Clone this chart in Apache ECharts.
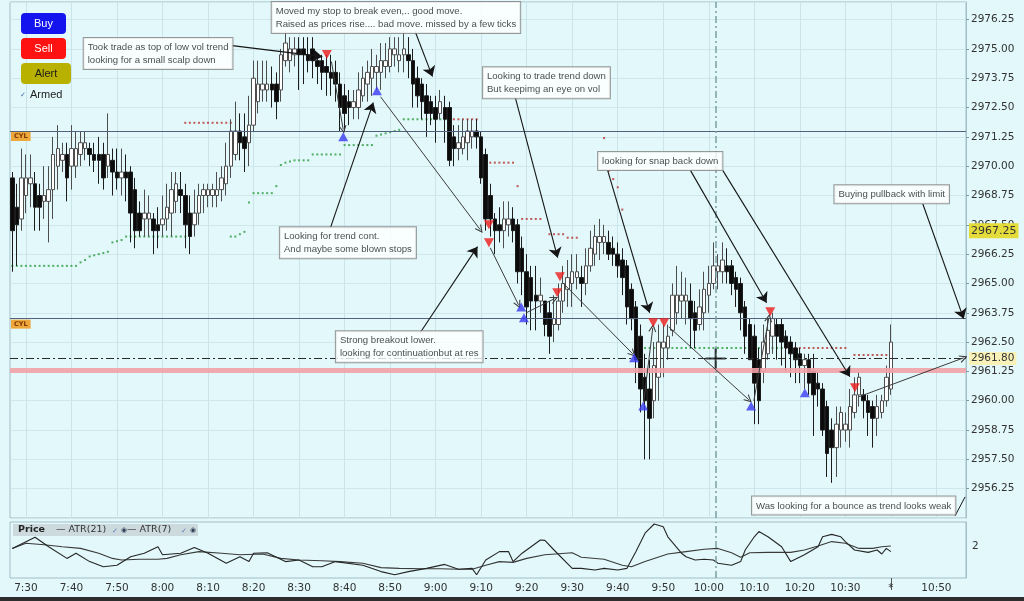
<!DOCTYPE html>
<html><head><meta charset="utf-8">
<script src="https://cdn.jsdelivr.net/npm/echarts/dist/echarts.min.js"></script>
<style>html,body{margin:0;padding:0;background:#e2f8fb;}#c{width:1024px;height:601px;}</style>
</head><body><div id="c"></div>
<script>
// ---- categories (1-minute bars starting 7:27) ----
const startMinute = 7 * 60 + 27, nCats = 210;
const times = [];
for (let k = 0; k < nCats; k++) { const m = startMinute + k; times.push(Math.floor(m / 60) + ':' + String(m % 60).padStart(2, '0')); }
const tickTimes = ['7:30','7:40','7:50','8:00','8:10','8:20','8:30','8:40','8:50','9:00','9:10','9:20','9:30','9:40','9:50','10:00','10:10','10:20','10:30','10:40','10:50'];
const tickTexts = ['7:30','7:40','7:50','8:00','8:10','8:20','8:30','8:40','8:50','9:00','9:10','9:20','9:30','9:40','9:50','10:00','10:10','10:20','10:30','*','10:50'];

// ---- OHLC [open, close, low, high] ----
const candles = [
[2969.50,2967.25,2965.50,2969.75],[2968.25,2967.50,2965.75,2969.25],[2967.75,2969.50,2967.25,2970.75],[2968.75,2969.50,2968.00,2970.50],
[2969.25,2969.50,2968.25,2970.50],[2969.25,2968.25,2967.25,2969.75],[2968.75,2968.25,2967.25,2969.25],[2968.50,2968.75,2967.75,2970.00],
[2968.50,2969.00,2966.75,2970.00],[2969.00,2970.50,2967.75,2971.25],[2970.00,2970.75,2969.00,2971.75],[2970.25,2970.50,2969.75,2971.00],
[2970.50,2969.50,2968.50,2971.00],[2970.00,2970.75,2969.00,2971.75],[2970.00,2970.75,2969.50,2971.50],[2970.50,2971.00,2970.00,2971.50],
[2970.75,2971.00,2970.25,2971.50],[2970.75,2970.50,2970.00,2971.00],[2970.50,2970.25,2969.75,2971.00],[2970.50,2970.25,2969.25,2971.25],
[2970.50,2969.50,2969.00,2971.00],[2970.00,2970.50,2969.50,2972.25],[2970.25,2969.75,2968.75,2970.75],[2969.75,2969.50,2969.00,2970.75],
[2969.50,2969.75,2968.75,2970.75],[2969.75,2969.50,2968.50,2970.50],[2969.75,2968.00,2966.75,2970.00],[2969.00,2967.25,2966.50,2969.50],
[2968.00,2967.25,2967.00,2968.50],[2967.75,2968.00,2967.00,2969.00],[2967.75,2968.00,2967.00,2968.75],[2967.75,2967.25,2966.25,2968.00],
[2967.50,2967.25,2966.50,2968.25],[2967.50,2967.75,2967.00,2968.75],[2967.75,2968.25,2967.25,2969.25],[2968.00,2969.00,2967.00,2969.75],
[2968.50,2969.25,2968.00,2969.75],[2969.00,2968.75,2968.00,2969.75],[2968.75,2967.50,2966.50,2969.25],[2968.00,2967.00,2966.25,2968.75],
[2967.50,2968.00,2967.00,2969.00],[2968.00,2968.75,2967.50,2969.25],[2968.75,2969.00,2968.00,2969.25],[2968.75,2969.00,2968.25,2969.25],
[2968.75,2969.00,2968.25,2969.25],[2968.75,2969.00,2968.25,2969.75],[2969.00,2969.50,2968.50,2970.00],[2969.25,2970.00,2968.75,2971.00],
[2970.00,2971.50,2969.50,2972.00],[2970.50,2971.50,2970.25,2972.75],[2971.50,2971.00,2970.25,2972.25],[2971.25,2970.75,2969.75,2972.25],
[2971.00,2971.75,2970.00,2973.00],[2971.75,2973.75,2971.50,2974.50],[2972.75,2973.50,2972.25,2974.50],[2973.25,2973.50,2972.75,2974.50],
[2973.25,2973.50,2972.75,2974.50],[2973.50,2973.25,2972.50,2974.25],[2973.50,2972.75,2972.00,2974.00],[2973.25,2974.75,2972.75,2975.00],
[2974.50,2975.25,2974.25,2975.75],[2974.50,2975.00,2974.00,2975.50],[2974.75,2975.00,2974.25,2975.50],[2975.00,2974.75,2973.25,2975.50],
[2975.00,2974.75,2973.50,2975.50],[2974.75,2974.50,2974.00,2975.50],[2975.00,2974.50,2973.75,2975.50],[2974.50,2974.25,2973.50,2974.75],
[2974.50,2974.00,2973.25,2974.75],[2974.25,2974.00,2973.00,2974.75],[2974.00,2973.75,2973.00,2974.75],[2974.00,2973.50,2972.75,2974.50],
[2973.50,2972.50,2971.50,2974.00],[2973.00,2972.25,2971.50,2973.50],[2972.75,2972.50,2971.75,2973.25],[2972.50,2972.75,2972.00,2973.25],
[2972.50,2973.25,2972.00,2974.00],[2973.00,2973.75,2972.75,2974.25],[2973.50,2974.00,2972.75,2974.50],[2973.75,2974.25,2973.00,2975.00],
[2974.00,2974.25,2973.25,2974.75],[2974.00,2974.50,2973.25,2975.25],[2974.25,2974.50,2973.75,2975.25],[2974.25,2975.00,2974.00,2975.50],
[2974.75,2975.00,2974.25,2975.50],[2974.50,2974.75,2974.00,2975.50],[2974.75,2975.00,2974.00,2975.75],[2974.75,2974.50,2973.75,2975.50],
[2974.50,2973.50,2972.50,2975.00],[2973.75,2973.00,2972.50,2974.25],[2973.50,2972.75,2972.00,2973.75],[2973.00,2972.25,2971.25,2973.50],
[2972.75,2972.25,2971.75,2973.00],[2972.50,2972.00,2971.00,2973.00],[2972.25,2972.75,2972.00,2973.25],[2972.50,2972.00,2971.00,2973.00],
[2972.50,2970.25,2970.00,2972.75],[2971.25,2970.75,2970.00,2971.75],[2970.75,2971.00,2970.25,2971.75],[2970.75,2971.25,2970.50,2972.00],
[2971.00,2971.50,2970.25,2972.00],[2971.25,2971.50,2970.75,2972.00],[2971.50,2971.25,2970.75,2972.00],[2971.25,2969.50,2969.25,2971.50],
[2970.50,2967.75,2967.25,2970.75],[2968.75,2967.75,2967.00,2969.25],[2967.75,2967.25,2966.25,2968.00],[2967.50,2967.25,2966.75,2968.25],
[2967.25,2967.75,2966.50,2968.50],[2967.50,2967.75,2967.00,2968.50],[2967.75,2967.25,2966.75,2968.25],[2967.50,2965.50,2965.00,2967.75],
[2966.50,2965.50,2964.50,2967.00],[2965.50,2964.00,2963.25,2966.25],[2965.25,2964.25,2963.00,2965.75],[2964.50,2964.25,2963.00,2965.75],
[2964.25,2964.50,2963.75,2965.25],[2964.25,2963.25,2962.75,2964.25],[2963.75,2962.75,2962.00,2964.25],[2963.25,2963.50,2962.50,2964.50],
[2963.25,2964.25,2963.00,2965.00],[2964.25,2965.00,2963.75,2965.75],[2964.75,2965.25,2964.00,2966.00],[2965.00,2965.50,2964.00,2966.25],
[2965.25,2965.50,2964.75,2966.25],[2965.25,2965.00,2964.00,2965.75],[2965.00,2965.75,2964.50,2966.50],[2965.75,2966.50,2965.50,2967.25],
[2966.25,2967.00,2965.75,2967.50],[2966.75,2967.00,2966.00,2967.75],[2966.75,2967.00,2966.25,2967.50],[2966.75,2966.25,2966.00,2967.25],
[2966.50,2966.25,2965.75,2967.00],[2966.25,2965.75,2965.25,2966.75],[2966.00,2965.25,2964.50,2966.50],[2965.75,2964.00,2963.25,2966.00],
[2964.75,2963.50,2963.00,2965.00],[2964.00,2961.75,2960.75,2964.25],[2962.75,2960.50,2959.50,2963.25],[2961.00,2960.00,2957.50,2962.00],
[2960.50,2959.25,2957.50,2961.75],[2960.00,2961.50,2959.25,2962.50],[2961.00,2962.50,2960.00,2963.25],[2962.25,2962.50,2961.00,2963.25],
[2962.25,2962.75,2961.75,2963.25],[2963.00,2964.50,2962.75,2965.00],[2963.75,2964.50,2963.25,2965.75],[2964.25,2964.50,2963.50,2965.50],
[2964.25,2964.50,2963.25,2965.25],[2964.25,2963.50,2962.25,2965.00],[2963.75,2963.00,2962.25,2964.25],[2963.25,2964.00,2963.00,2964.75],
[2963.75,2964.75,2963.00,2965.50],[2964.50,2965.00,2963.75,2965.75],[2965.00,2965.75,2964.75,2966.75],[2965.50,2965.75,2964.75,2966.25],
[2965.50,2966.00,2965.00,2966.75],[2965.75,2965.50,2965.00,2966.50],[2965.75,2965.00,2964.50,2966.00],[2965.25,2964.75,2964.00,2965.50],
[2965.00,2963.75,2963.00,2965.25],[2964.00,2962.75,2962.00,2964.25],[2963.25,2961.75,2961.75,2963.50],[2962.75,2960.75,2959.00,2963.25],
[2961.75,2960.00,2959.00,2962.25],[2961.25,2962.50,2960.75,2963.25],[2962.00,2963.00,2961.75,2963.50],[2962.75,2963.50,2962.00,2963.75],
[2963.25,2962.75,2961.75,2963.50],[2963.25,2962.50,2961.50,2963.50],[2962.75,2962.25,2961.25,2963.00],[2962.50,2962.00,2961.00,2962.75],
[2962.25,2961.75,2960.75,2962.50],[2962.00,2961.50,2960.75,2962.25],[2961.50,2961.75,2960.50,2962.00],[2961.75,2960.75,2960.25,2962.00],
[2961.25,2960.25,2958.50,2962.00],[2960.75,2960.50,2959.75,2961.25],[2960.50,2958.75,2958.50,2960.75],[2959.75,2957.75,2956.75,2960.00],
[2958.75,2958.00,2956.50,2959.25],[2958.00,2959.00,2956.75,2959.75],[2958.75,2959.50,2958.00,2959.75],[2958.75,2959.00,2958.25,2959.50],
[2958.75,2959.75,2958.00,2960.50],[2959.50,2960.25,2959.25,2961.00],[2960.25,2961.00,2959.75,2961.25],[2960.25,2960.00,2959.25,2960.50],
[2960.00,2959.50,2958.50,2960.25],[2959.75,2959.25,2958.00,2960.00],[2959.25,2959.75,2958.50,2960.25],[2959.50,2960.00,2959.25,2960.25],
[2960.00,2961.00,2959.75,2961.50],[2960.50,2962.50,2960.25,2963.25]
];

// ---- stop levels: [fromBar, toBar, price] ----
const longStopRuns = [[0,14,2965.75],[15,15,2965.9],[16,16,2966.0],[17,17,2966.15],[18,18,2966.2],[19,19,2966.25],[20,20,2966.3],[21,21,2966.35],
[22,22,2966.75],[23,23,2966.8],[24,24,2966.85],[25,38,2967.0],[48,49,2967.0],[50,50,2967.1],[51,51,2967.2],[52,52,2968.45],[53,57,2968.85],
[58,58,2969.15],[59,59,2970.05],[60,60,2970.15],[61,61,2970.2],[62,65,2970.25],[66,72,2970.5],[73,79,2970.9],[80,80,2971.3],[81,81,2971.35],
[82,82,2971.4],[83,83,2971.45],[84,84,2971.5],[85,85,2971.55],[86,95,2972.0],[139,169,2962.25]];
const shortStopRuns = [[38,48,2971.85],[96,102,2972.0],[105,110,2970.15],[111,111,2969.15],[112,116,2967.75],[118,121,2967.1],[122,124,2966.95],
[130,130,2971.2],[131,131,2969.8],[132,132,2969.45],[133,133,2969.1],[134,134,2968.15],[170,183,2962.25],[185,193,2961.95]];

// ---- executions [bar, price] ----
const sellMarks = [[69.1,2974.76],[104.7,2967.50],[104.7,2966.74],[119.7,2964.60],[120.3,2965.29],[140.8,2963.32],[143.2,2963.32],[166.5,2963.79],[185.1,2960.55]];
const buyMarks = [[72.7,2971.26],[80.1,2973.22],[111.8,2964.00],[112.4,2963.54],[136.6,2961.83],[138.6,2959.78],[162.3,2959.78],[174.1,2960.34]];

// ---- ATR panel [bar, value] ----
const atr21 = [[0,1.94],[3,2.07],[7,2.03],[11,1.98],[15,1.94],[19,1.82],[22,1.69],[24,1.65],[28,1.67],[32,1.67],[34,1.69],[37,1.78],[41,1.86],
[46,1.82],[50,1.78],[55,1.80],[59,1.69],[63,1.65],[68,1.63],[72,1.61],[77,1.57],[81,1.46],[85,1.44],[90,1.43],[94,1.43],[98,1.42],[101,1.42],
[104,1.52],[107,1.61],[110,1.59],[113,1.69],[117,1.78],[123,1.83],[125,1.72],[130,1.67],[134,1.52],[136,1.48],[139,1.61],[144,1.80],[148,1.86],
[152,1.92],[155,1.94],[158,1.83],[160,1.72],[162,1.83],[166,1.84],[171,1.84],[174,1.90],[177,2.00],[180,2.11],[183,2.07],[186,1.94],[189,1.94],
[191,1.98],[193,2.00]];
const atr7 = [[0,1.94],[5,2.22],[8,1.98],[12,1.69],[14,1.82],[17,1.61],[20,1.48],[23,1.52],[26,1.73],[29,1.82],[32,1.98],[33,1.78],[37,1.82],
[40,1.96],[43,1.82],[47,1.57],[50,1.73],[52,1.61],[53,1.82],[56,1.83],[60,1.61],[63,1.65],[66,1.48],[68,1.48],[71,1.61],[77,1.52],[81,1.36],
[84,1.28],[87,1.36],[91,1.44],[95,1.54],[98,1.42],[101,1.44],[102,1.28],[104,1.65],[107,1.86],[109,1.86],[110,1.61],[112,1.82],[116,2.15],
[117,2.14],[119,1.90],[123,1.44],[125,1.44],[128,1.40],[130,1.44],[133,1.40],[135,1.44],[137,1.86],[139,2.32],[141,2.55],[143,2.48],[144,2.23],
[147,1.82],[148,1.73],[150,1.65],[152,1.67],[154,1.65],[155,1.57],[158,1.52],[160,1.61],[161,1.90],[163,2.23],[164,2.36],[166,2.23],[169,1.98],
[171,1.61],[174,1.78],[177,1.98],[178,2.23],[180,2.29],[182,2.23],[183,2.11],[185,1.90],[188,1.84],[190,1.90],[191,1.80],[192,1.94],[193,1.86]];

// ---- drawn levels ----
const cylLevels = [2971.50, 2963.50];
const pinkLevel = 2961.32;
const crossPrice = 2961.80, crossBar = 154.5;
const markedPrice = 2967.25;

// ---- annotations: [bar, price, text] (box top-left) ----
const notes = [
[15.8,2975.44,'Took trade as top of low vol trend\nlooking for a small scalp down'],
[57.1,2976.98,'Moved my stop to break even,.. good move.\nRaised as prices rise.... bad move. missed by a few ticks'],
[103.5,2974.20,'Looking to trade trend down\nBut keepimg an eye on vol'],
[58.9,2967.38,'Looking for trend cont.\nAnd maybe some blown stops'],
[71.2,2962.94,'Strong breakout lower.\nlooking for continuationbut at res'],
[128.8,2970.58,'looking for snap back down'],
[180.7,2969.17,'Buying pullback with limit'],
[162.6,2955.90,'Was looking for a bounce as trend looks weak']
];
// note arrows [bar1, price1, bar2, price2]
const noteArrows = [
[48.3,2975.14,68.1,2974.67],[88.5,2975.74,92.3,2973.82],[110.5,2972.92,119.8,2966.10],[69.9,2967.38,79.3,2972.71],
[89.6,2962.90,102.2,2966.57],[130.8,2969.81,140.0,2963.75],[149.0,2969.81,165.7,2964.18],[156.1,2969.81,184.0,2961.02],
[200.0,2968.40,209.0,2963.49]];
const noteLines = [[207.1,2955.09,209.3,2955.90]];
// trade connectors
const tradeArrows = [
[70.1,2974.46,72.7,2971.56],[80.9,2972.96,102.8,2967.29],[105.0,2966.52,111.2,2964.09],[112.9,2963.75,119.1,2964.35],
[120.9,2965.03,136.3,2962.00],[138.7,2959.95,140.7,2963.11],[144.2,2963.15,161.8,2960.04],[162.9,2960.00,166.2,2963.54],
[186.0,2960.17,209.0,2961.83]];

function expandRuns(runs) { const out = []; runs.forEach(r => { for (let i = r[0]; i <= r[1]; i++) out.push([i, r[2]]); }); return out; }
const toCoords = arr => arr.map(a => ({ coords: [[a[0], a[1]], [a[2], a[3]]] }));

const chart = echarts.init(document.getElementById('c'), null, { renderer: 'canvas' });
const axisFont = { fontFamily: 'DejaVu Sans', fontSize: 10.5, color: '#333' };
const isTick = (i, v) => tickTimes.indexOf(v) >= 0;
const openArrow = 'path://M5,0 L10,10 L8.5,10 L5,3 L1.5,10 L0,10 Z';
const cylLabel = { show: true, position: 'insideStartBottom', distance: 1, formatter: 'CYL', fontSize: 6.5, fontWeight: 'bold', color: '#7a3500', backgroundColor: '#eea73a', padding: [1, 3] };

const option = {
  animation: false,
  backgroundColor: '#e2f8fb',
  textStyle: { fontFamily: 'DejaVu Sans' },
  grid: [
    { left: 10, right: 58, top: 2, height: 516, show: true, borderColor: '#a3bec6', borderWidth: 1, backgroundColor: 'transparent' },
    { left: 10, right: 58, top: 522, height: 56, show: true, borderColor: '#a3bec6', borderWidth: 1, backgroundColor: 'transparent' }
  ],
  xAxis: [
    { type: 'category', gridIndex: 0, data: times, boundaryGap: true, axisLine: { show: false, onZero: false }, axisTick: { show: false }, axisLabel: { show: false },
      splitLine: { show: true, interval: isTick, alignWithLabel: true, lineStyle: { color: '#cbe4e9', width: 1 } } },
    { type: 'value', gridIndex: 0, min: -0.5, max: 209.5, show: false, axisLine: { onZero: false } },
    { type: 'category', gridIndex: 1, data: times, boundaryGap: true, axisLine: { show: false, onZero: false },
      axisTick: { show: true, interval: (i, v) => v === '10:40', alignWithLabel: true, length: 12, lineStyle: { color: '#555' } },
      axisLabel: Object.assign({ interval: isTick, margin: 5, formatter: v => tickTexts[tickTimes.indexOf(v)] || '' }, axisFont),
      splitLine: { show: false } },
    { type: 'value', gridIndex: 1, min: -0.5, max: 209.5, show: false, axisLine: { onZero: false } }
  ],
  yAxis: [
    { type: 'value', gridIndex: 0, position: 'right', min: 2955, max: 2977, interval: 1.25,
      axisLine: { show: true, onZero: false, lineStyle: { color: '#a3bec6' } }, axisTick: { show: true, length: 3, lineStyle: { color: '#7a9aa2' } },
      axisLabel: Object.assign({ formatter: v => v.toFixed(2), showMinLabel: false, showMaxLabel: false, margin: 5 }, axisFont),
      splitLine: { show: true, lineStyle: { color: '#cfe6eb', width: 1 } } },
    { type: 'value', gridIndex: 1, position: 'right', min: 1.2, max: 2.6, interval: 0.4,
      axisLine: { show: true, onZero: false, lineStyle: { color: '#a3bec6' } }, axisTick: { show: false },
      axisLabel: Object.assign({ formatter: v => Math.abs(v - 2) < 1e-6 ? '2' : '', showMaxLabel: false, margin: 6 }, axisFont),
      splitLine: { show: false } }
  ],
  series: [
    { type: 'scatter', name: 'longStop', xAxisIndex: 1, yAxisIndex: 0, data: expandRuns(longStopRuns), symbol: 'rect', symbolSize: 2,
      itemStyle: { color: '#2c9c3c' }, z: 2, silent: true,
      markLine: { silent: true, symbol: ['none', 'none'], animation: false,
        data: [
          { yAxis: cylLevels[0], lineStyle: { color: '#52627e', width: 1, type: 'solid' }, label: cylLabel },
          { yAxis: cylLevels[1], lineStyle: { color: '#52627e', width: 1, type: 'solid' }, label: cylLabel },
          { yAxis: pinkLevel, lineStyle: { color: '#f2a2a8', width: 5, type: 'solid', opacity: 0.9 }, label: { show: false } }
        ] } },
    { type: 'scatter', name: 'shortStop', xAxisIndex: 1, yAxisIndex: 0, data: expandRuns(shortStopRuns), symbol: 'rect', symbolSize: 2,
      itemStyle: { color: '#b8302c' }, z: 2, silent: true },
    { type: 'candlestick', name: 'Price', xAxisIndex: 0, yAxisIndex: 0, data: candles, barWidth: 4, z: 3, silent: true,
      itemStyle: { color: '#ffffff', color0: '#0b0b0b', borderColor: '#4d4d4d', borderColor0: '#1c1c1c', borderWidth: 1 } },
    { type: 'lines', coordinateSystem: 'cartesian2d', xAxisIndex: 1, yAxisIndex: 0, data: toCoords(tradeArrows), z: 5, silent: true,
      symbol: ['none', openArrow], symbolSize: 8, lineStyle: { color: '#3c3c3c', width: 1, opacity: 1 } },
    { type: 'lines', coordinateSystem: 'cartesian2d', xAxisIndex: 1, yAxisIndex: 0, data: toCoords(noteArrows), z: 6, silent: true,
      symbol: ['none', 'arrow'], symbolSize: 10, lineStyle: { color: '#151515', width: 1.1, opacity: 1 } },
    { type: 'lines', coordinateSystem: 'cartesian2d', xAxisIndex: 1, yAxisIndex: 0, data: toCoords(noteLines), z: 6, silent: true,
      symbol: ['none', 'none'], lineStyle: { color: '#151515', width: 1, opacity: 1 } },
    { type: 'scatter', name: 'sell', xAxisIndex: 1, yAxisIndex: 0, data: sellMarks, symbol: 'triangle', symbolRotate: 180, symbolSize: [10, 9],
      itemStyle: { color: '#ee1a1a' }, z: 7, silent: true },
    { type: 'scatter', name: 'buy', xAxisIndex: 1, yAxisIndex: 0, data: buyMarks, symbol: 'triangle', symbolSize: [10, 9],
      itemStyle: { color: '#3a3af2' }, z: 7, silent: true },
    { type: 'scatter', name: 'notes', xAxisIndex: 1, yAxisIndex: 0, z: 10, silent: true, symbolSize: 1,
      itemStyle: { color: 'rgba(0,0,0,0)' },
      data: notes.map(n => ({ value: [n[0], n[1]], name: n[2] })),
      label: { show: true, position: [0, 0], align: 'left', verticalAlign: 'top', formatter: p => p.name,
        fontFamily: 'Liberation Sans', fontSize: 9.6, lineHeight: 13, color: '#1a1a1a',
        backgroundColor: '#ffffff', borderColor: '#808080', borderWidth: 1, padding: [3, 4, 2, 4] },
      markLine: { silent: true, symbol: ['none', 'none'], animation: false,
        data: [
          { xAxis: crossBar, lineStyle: { color: '#7d9ea4', width: 1.5, type: [7, 3, 2, 3] }, label: { show: false } },
          { yAxis: crossPrice, lineStyle: { color: '#2a2a2a', width: 1, type: [8, 3, 2, 3] },
            label: { show: true, position: 'end', distance: 3, formatter: crossPrice.toFixed(2), fontFamily: 'DejaVu Sans', fontSize: 10.5, color: '#333', backgroundColor: '#f8f1b8', padding: [1, 2] } },
          { yAxis: markedPrice, lineStyle: { color: 'rgba(0,0,0,0)', width: 0 },
            label: { show: true, position: 'end', distance: 3, formatter: markedPrice.toFixed(2), fontFamily: 'DejaVu Sans', fontSize: 11, color: '#333', backgroundColor: '#e3dc3a', padding: [2, 2, 2, 2] } }
        ] } },
    { type: 'scatter', name: 'cursor', xAxisIndex: 1, yAxisIndex: 0, data: [[crossBar, crossPrice]], z: 11, silent: true,
      symbol: 'path://M0,9 L20,9 L20,11 L0,11 Z M9,0 L11,0 L11,20 L9,20 Z', symbolSize: 20, itemStyle: { color: '#111' } },
    { type: 'line', name: 'ATR(21)', xAxisIndex: 3, yAxisIndex: 1, data: atr21, showSymbol: false, symbol: 'none', silent: true,
      lineStyle: { color: '#3a3a3a', width: 1.1 }, z: 3,
      markLine: { silent: true, symbol: ['none', 'none'], animation: false,
        data: [{ xAxis: crossBar, lineStyle: { color: '#7d9ea4', width: 1.5, type: [7, 3, 2, 3] }, label: { show: false } }] } },
    { type: 'line', name: 'ATR(7)', xAxisIndex: 3, yAxisIndex: 1, data: atr7, showSymbol: false, symbol: 'none', silent: true,
      lineStyle: { color: '#262626', width: 1.1 }, z: 3 }
  ],
  graphic: [
    { type: 'rect', shape: { x: 21, y: 13, width: 45, height: 21, r: 4 }, style: { fill: '#1414ee' }, z: 20 },
    { type: 'text', x: 43.5, y: 24, style: { text: 'Buy', fill: '#ffffff', font: '11px "Liberation Sans"', align: 'center', verticalAlign: 'middle', textAlign: 'center', textVerticalAlign: 'middle' }, z: 21 },
    { type: 'rect', shape: { x: 21, y: 38, width: 45, height: 21, r: 4 }, style: { fill: '#ff1212' }, z: 20 },
    { type: 'text', x: 43.5, y: 49, style: { text: 'Sell', fill: '#ffffff', font: '11px "Liberation Sans"', align: 'center', verticalAlign: 'middle', textAlign: 'center', textVerticalAlign: 'middle' }, z: 21 },
    { type: 'rect', shape: { x: 21, y: 63, width: 50, height: 21, r: 4 }, style: { fill: '#b8b100' }, z: 20 },
    { type: 'text', x: 46, y: 74, style: { text: 'Alert', fill: '#1c1c1c', font: '11px "Liberation Sans"', align: 'center', verticalAlign: 'middle', textAlign: 'center', textVerticalAlign: 'middle' }, z: 21 },
    { type: 'text', x: 20, y: 95, style: { text: '✓', fill: '#4a6aa8', font: '7px "DejaVu Sans"', verticalAlign: 'middle', textVerticalAlign: 'middle' }, z: 21 },
    { type: 'text', x: 30, y: 95, style: { text: 'Armed', fill: '#222', font: '11px "Liberation Sans"', verticalAlign: 'middle', textVerticalAlign: 'middle' }, z: 21 },
    { type: 'rect', shape: { x: 13, y: 524, width: 185, height: 12 }, style: { fill: '#ccdade' }, z: 20 },
    { type: 'text', x: 18, y: 530, style: { text: 'Price', fill: '#222', font: 'bold 9.5px "DejaVu Sans"', verticalAlign: 'middle', textVerticalAlign: 'middle' }, z: 21 },
    { type: 'text', x: 56, y: 530, style: { text: '— ATR(21)', fill: '#333', font: '9.5px "DejaVu Sans"', verticalAlign: 'middle', textVerticalAlign: 'middle' }, z: 21 },
    { type: 'text', x: 112, y: 531, style: { text: '✓', fill: '#5a7ab8', font: '7px "DejaVu Sans"', verticalAlign: 'middle', textVerticalAlign: 'middle' }, z: 21 },
    { type: 'text', x: 121, y: 530, style: { text: '◉', fill: '#33415a', font: '7px "DejaVu Sans"', verticalAlign: 'middle', textVerticalAlign: 'middle' }, z: 21 },
    { type: 'text', x: 127, y: 530, style: { text: '— ATR(7)', fill: '#333', font: '9.5px "DejaVu Sans"', verticalAlign: 'middle', textVerticalAlign: 'middle' }, z: 21 },
    { type: 'text', x: 181, y: 531, style: { text: '✓', fill: '#5a7ab8', font: '7px "DejaVu Sans"', verticalAlign: 'middle', textVerticalAlign: 'middle' }, z: 21 },
    { type: 'text', x: 190, y: 530, style: { text: '◉', fill: '#33415a', font: '7px "DejaVu Sans"', verticalAlign: 'middle', textVerticalAlign: 'middle' }, z: 21 },
    { type: 'rect', shape: { x: 0, y: 597, width: 1024, height: 4 }, style: { fill: '#2d2d2d' }, z: 20 }
  ]
};
chart.setOption(option);
</script></body></html>
